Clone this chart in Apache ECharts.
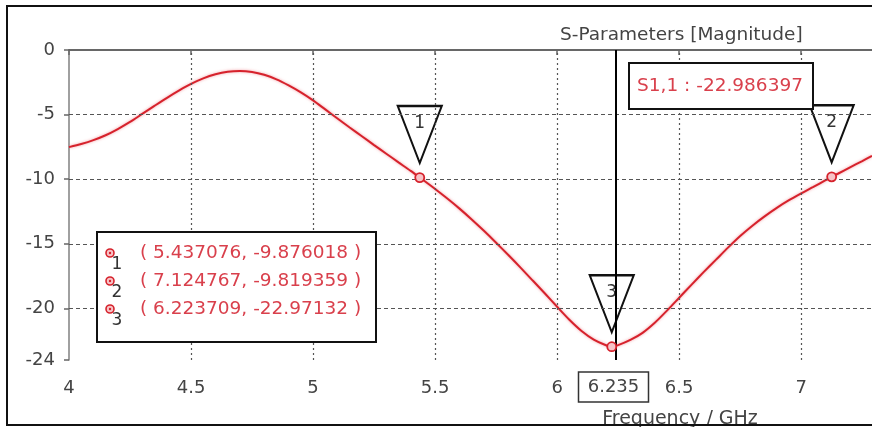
<!DOCTYPE html>
<html>
<head>
<meta charset="utf-8">
<script src="https://cdn.jsdelivr.net/npm/echarts@6/dist/echarts.min.js"></script>
<style>html,body{margin:0;padding:0;background:#fff;}#c{width:872px;height:427px;}</style>
</head>
<body>
<div id="c"></div>
<script>
// ---- data ----
const freq = [4.00,4.05,4.10,4.15,4.20,4.25,4.30,4.35,4.40,4.45,4.50,4.55,4.60,4.65,4.70,4.75,4.80,4.85,4.90,4.95,5.00,5.05,5.10,5.15,5.20,5.25,5.30,5.35,5.40,5.437076,5.50,5.55,5.60,5.65,5.70,5.75,5.80,5.85,5.90,5.95,6.00,6.05,6.10,6.15,6.20,6.223709,6.25,6.30,6.35,6.40,6.45,6.50,6.55,6.60,6.65,6.70,6.75,6.80,6.85,6.90,6.95,7.00,7.05,7.10,7.124767,7.15,7.20,7.25,7.29];
const s11  = [-7.52,-7.28,-6.98,-6.60,-6.12,-5.57,-4.95,-4.33,-3.72,-3.15,-2.63,-2.20,-1.88,-1.68,-1.62,-1.70,-1.92,-2.27,-2.74,-3.28,-3.90,-4.60,-5.30,-6.00,-6.68,-7.36,-8.03,-8.70,-9.36,-9.876018,-10.76,-11.50,-12.28,-13.12,-14.00,-14.92,-15.87,-16.85,-17.85,-18.85,-19.88,-20.88,-21.75,-22.42,-22.86,-22.97132,-22.85,-22.45,-21.90,-21.12,-20.18,-19.18,-18.18,-17.20,-16.25,-15.30,-14.40,-13.60,-12.88,-12.22,-11.63,-11.10,-10.60,-10.08,-9.819359,-9.58,-9.08,-8.60,-8.20];
const markerNames = ['1','2','3'];
const markerX = [5.437076, 7.124767, 6.223709];
const markerY = [-9.876018, -9.819359, -22.97132];
const readoutText = ['( 5.437076, -9.876018 )', '( 7.124767, -9.819359 )', '( 6.223709, -22.97132 )'];
const cursorX = 6.235;
const cursorLabel = '6.235';
const cursorValue = 'S1,1 : -22.986397';
const xTicks = [4, 4.5, 5, 5.5, 6, 6.5, 7];
const yTicks = [-24, -20, -15, -10, -5, 0];
const xGrid = [4.5, 5, 5.5, 6, 6.5, 7];
const yGrid = [-5, -10, -15, -20];
const titleText = 'S-Parameters [Magnitude]';
const xName = 'Frequency / GHz';

const FONT = 'DejaVu Sans';
const RED = '#d6222c';
const TXT_RED = '#d9404c';
const chart = echarts.init(document.getElementById('c'), null, {renderer: 'canvas'});

const curve = freq.map((f, i) => [f, s11[i]]);
const markers = markerX.map((x, i) => ({value: [x, markerY[i]], name: markerNames[i]}));

chart.setOption({
  animation: false,
  backgroundColor: '#fff',
  title: {
    text: titleText, left: 555, top: 21,
    textStyle: {fontFamily: FONT, fontSize: 18.5, fontWeight: 'normal', color: '#444'}
  },
  grid: {left: 69, right: 0, top: 50, bottom: 67, containLabel: false},
  xAxis: [{
    type: 'value', min: 4, max: 7.29,
    axisLine: {show: true, lineStyle: {color: '#707070', width: 1.5}},
    axisTick: {show: true, customValues: xTicks, length: 5, lineStyle: {color: '#666', width: 1.5}},
    axisLabel: {customValues: xTicks, margin: 19, fontFamily: FONT, fontSize: 18, color: '#444'},
    splitLine: {show: false}
  }, {
    type: 'value', min: 4, max: 7.29, position: 'top',
    axisLine: {show: true, onZero: false, lineStyle: {color: '#5a5a5a', width: 1.5}},
    axisTick: {show: false}, axisLabel: {show: false}, splitLine: {show: false}
  }],
  yAxis: {
    type: 'value', min: -24, max: 0,
    axisLine: {show: true, lineStyle: {color: '#808080', width: 1.5}},
    axisTick: {show: true, customValues: yTicks, length: 5, lineStyle: {color: '#666', width: 1.5}},
    axisLabel: {customValues: yTicks, margin: 14, fontFamily: FONT, fontSize: 18, color: '#444'},
    splitLine: {show: false}
  },
  series: [
    {
      name: 'grid', type: 'line', data: [], z: 1, silent: true,
      markLine: {
        silent: true, symbol: 'none', label: {show: false}, animation: false,
        data: [
          ...xGrid.map(v => ({xAxis: v, lineStyle: {type: [2, 3], color: '#555', width: 1.2}})),
          ...yGrid.map(v => ({yAxis: v, lineStyle: {type: [4, 3], color: '#555', width: 1.2}}))
        ]
      }
    },
    {
      name: 'S1,1', type: 'line', data: curve, smooth: 0.25, showSymbol: false, z: 3,
      lineStyle: {color: RED, width: 2, shadowBlur: 3, shadowColor: 'rgba(235,90,100,0.6)'}
    },
    {
      name: 'flags', type: 'scatter', data: markers, z: 4,
      symbol: 'path://M0,0 L44,0 L22,57 Z', symbolSize: [44, 57], symbolOffset: [0, -43],
      itemStyle: {color: '#fff', borderColor: '#111', borderWidth: 2.2, opacity: 1},
      label: {show: true, position: 'inside', offset: [0, -11], formatter: p => p.name,
        fontFamily: FONT, fontSize: 17, color: '#333'}
    },
    {
      name: 'cursor', type: 'line', data: [], z: 5, silent: true,
      markLine: {
        silent: true, symbol: 'none', label: {show: false}, animation: false,
        data: [{xAxis: cursorX, lineStyle: {type: 'solid', color: '#000', width: 2, opacity: 1}}]
      }
    },
    {
      name: 'points', type: 'scatter', data: markers, z: 6,
      symbol: 'circle', symbolSize: 9,
      itemStyle: {color: '#f7c3c7', borderColor: RED, borderWidth: 1.8, opacity: 1}
    }
  ]
});

// annotations (readout box, cursor boxes, axis name, frame)
const cx = chart.convertToPixel({xAxisIndex: 0}, cursorX);
const Z = 60;
const g = [];
g.push({type: 'rect', z: 100, shape: {x: 7, y: 6, width: 900, height: 419}, style: {fill: 'none', stroke: '#111', lineWidth: 2}});
g.push({type: 'rect', z: Z, shape: {x: 97, y: 232, width: 279, height: 110}, style: {fill: '#fff', stroke: '#111', lineWidth: 2}});
markerNames.forEach((n, i) => {
  const y = 253 + i * 28;
  g.push({type: 'circle', z: Z + 1, shape: {cx: 110, cy: y, r: 4}, style: {fill: '#f7c3c7', stroke: RED, lineWidth: 1.6}});
  g.push({type: 'circle', z: Z + 2, shape: {cx: 110, cy: y, r: 1.2}, style: {fill: RED}});
  g.push({type: 'text', z: Z + 1, x: 117, y: y + 12, style: {text: n, fontFamily: FONT, fontSize: 17, fill: '#333', textAlign: 'center', textVerticalAlign: 'middle'}});
  g.push({type: 'text', z: Z + 1, x: 140, y: y, style: {text: readoutText[i], fontFamily: FONT, fontSize: 18.5, fill: TXT_RED, textAlign: 'left', textVerticalAlign: 'middle'}});
});
g.push({type: 'rect', z: Z, shape: {x: 629, y: 63, width: 184, height: 46}, style: {fill: '#fff', stroke: '#111', lineWidth: 2}});
g.push({type: 'text', z: Z + 1, x: 720, y: 86, style: {text: cursorValue, fontFamily: FONT, fontSize: 18.5, fill: TXT_RED, textAlign: 'center', textVerticalAlign: 'middle'}});
g.push({type: 'rect', z: Z, shape: {x: cx - 36, y: 372, width: 70, height: 30}, style: {fill: '#fff', stroke: '#333', lineWidth: 1.5}});
g.push({type: 'text', z: Z + 1, x: cx - 1, y: 387, style: {text: cursorLabel, fontFamily: FONT, fontSize: 18, fill: '#444', textAlign: 'center', textVerticalAlign: 'middle'}});
g.push({type: 'text', z: Z, x: 680, y: 419, style: {text: xName, fontFamily: FONT, fontSize: 19, fill: '#444', textAlign: 'center', textVerticalAlign: 'middle'}});
chart.setOption({graphic: g});
</script>
</body>
</html>
